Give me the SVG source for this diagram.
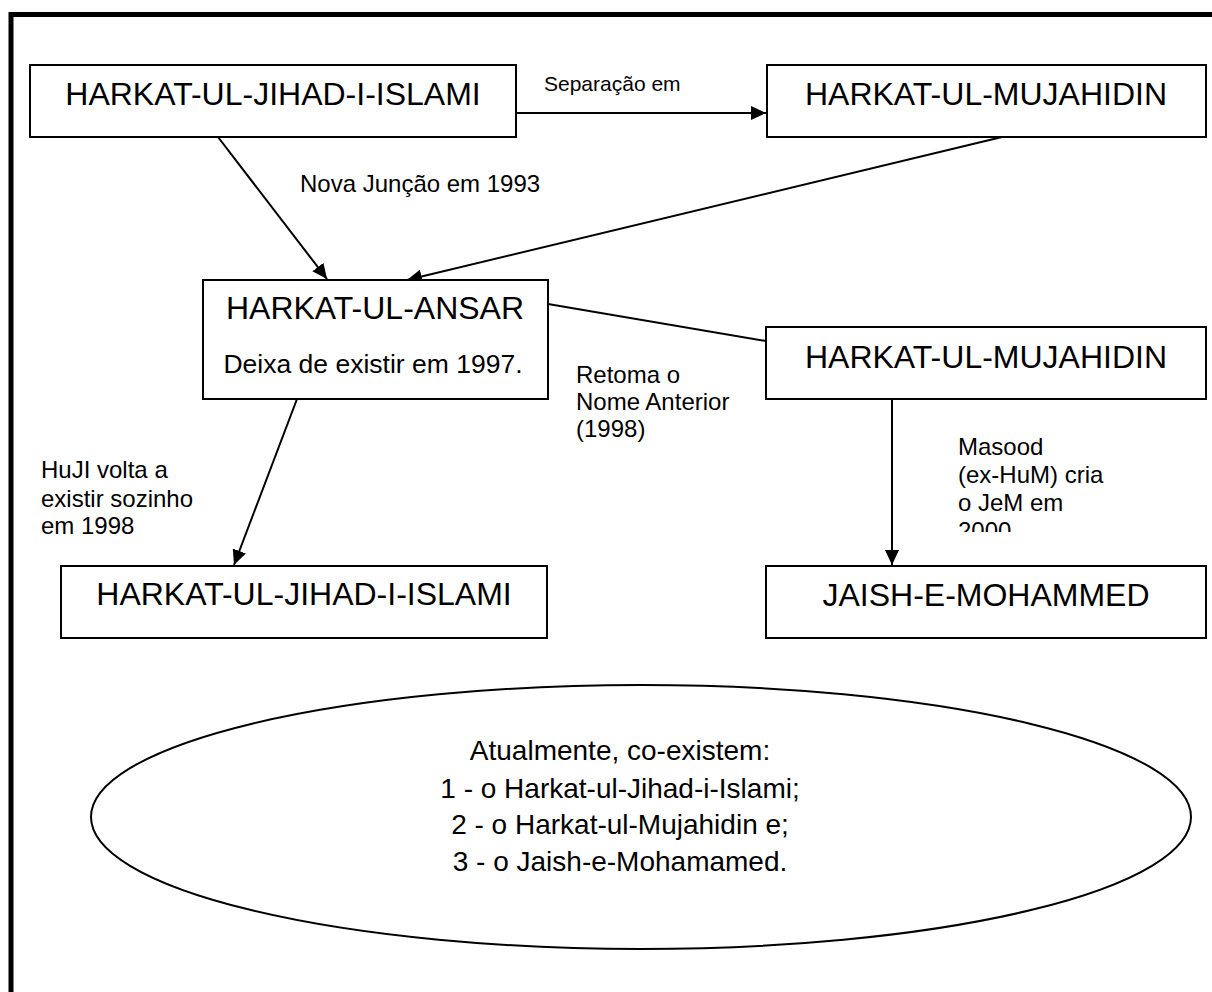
<svg xmlns="http://www.w3.org/2000/svg" width="1212" height="992" viewBox="0 0 1212 992">
  <defs>
    <style>
      .box { fill: #ffffff; stroke: #000000; stroke-width: 2; }
      .frame { fill: none; stroke: #000000; stroke-width: 5; }
      .conn { fill: none; stroke: #000000; stroke-width: 2; }
      .big { font-family: "Liberation Sans", Arial, sans-serif; font-size: 32px; fill: #000000; text-anchor: middle; }
      .mid { font-family: "Liberation Sans", Arial, sans-serif; font-size: 26.5px; fill: #000000; text-anchor: middle; }
      .lbl { font-family: "Liberation Sans", Arial, sans-serif; font-size: 24px; fill: #000000; }
      .sm { font-family: "Liberation Sans", Arial, sans-serif; font-size: 21px; fill: #000000; }
      .ell { font-family: "Liberation Sans", Arial, sans-serif; font-size: 28px; fill: #000000; text-anchor: middle; }
    </style>
    <marker id="arrow" markerUnits="userSpaceOnUse" markerWidth="16" markerHeight="14" refX="15" refY="7" orient="auto">
      <path d="M0,0 L15,7 L0,14 Z" fill="#000000"/>
    </marker>
    <clipPath id="clipMasood">
      <rect x="940" y="420" width="200" height="112"/>
    </clipPath>
  </defs>
  <rect width="1212" height="992" fill="#ffffff"/>
  <path class="frame" d="M11,1000 V14.5 H1230"/>

  <g id="connectors">
    <line class="conn" x1="516" y1="113" x2="766" y2="113" marker-end="url(#arrow)"/>
    <line class="conn" x1="218" y1="137" x2="327" y2="279" marker-end="url(#arrow)"/>
    <line class="conn" x1="1002" y1="137" x2="407" y2="280" marker-end="url(#arrow)"/>
    <line class="conn" x1="548" y1="304" x2="766" y2="341"/>
    <line class="conn" x1="297" y1="399" x2="234" y2="565" marker-end="url(#arrow)"/>
    <line class="conn" x1="892" y1="399" x2="892" y2="565" marker-end="url(#arrow)"/>
    <text class="sm" x="544" y="91">Separação em</text>
    <text class="lbl" x="300" y="192">Nova Junção em 1993</text>
    <text class="lbl" x="576" y="383">Retoma o</text>
    <text class="lbl" x="576" y="410">Nome Anterior</text>
    <text class="lbl" x="576" y="437">(1998)</text>
    <text class="lbl" x="41" y="478">HuJI volta a</text>
    <text class="lbl" x="41" y="507">existir sozinho</text>
    <text class="lbl" x="41" y="534">em 1998</text>
    <g clip-path="url(#clipMasood)">
      <text class="lbl" x="958" y="455">Masood</text>
      <text class="lbl" x="958" y="483">(ex-HuM) cria</text>
      <text class="lbl" x="958" y="511">o JeM em</text>
      <text class="lbl" x="958" y="539">2000</text>
    </g>
  </g>

  <g id="node-huji-top">
    <rect class="box" x="30" y="65" width="486" height="72"/>
    <text class="big" x="273" y="105">HARKAT-UL-JIHAD-I-ISLAMI</text>
  </g>
  <g id="node-hum-top">
    <rect class="box" x="767" y="65" width="439" height="72"/>
    <text class="big" x="986" y="105">HARKAT-UL-MUJAHIDIN</text>
  </g>
  <g id="node-hua">
    <rect class="box" x="203" y="280" width="345" height="119"/>
    <text class="big" x="375" y="319">HARKAT-UL-ANSAR</text>
    <text class="mid" x="373" y="373">Deixa de existir em 1997.</text>
  </g>
  <g id="node-hum">
    <rect class="box" x="766" y="327" width="440" height="72"/>
    <text class="big" x="986" y="368">HARKAT-UL-MUJAHIDIN</text>
  </g>
  <g id="node-huji-bottom">
    <rect class="box" x="61" y="566" width="486" height="72"/>
    <text class="big" x="304" y="605">HARKAT-UL-JIHAD-I-ISLAMI</text>
  </g>
  <g id="node-jem">
    <rect class="box" x="766" y="566" width="440" height="72"/>
    <text class="big" x="986" y="606">JAISH-E-MOHAMMED</text>
  </g>
  <g id="node-summary">
    <ellipse class="box" cx="641" cy="817" rx="550" ry="132"/>
    <text class="ell" x="620" y="760">Atualmente, co-existem:</text>
    <text class="ell" x="620" y="798">1 - o Harkat-ul-Jihad-i-Islami;</text>
    <text class="ell" x="620" y="834">2 - o Harkat-ul-Mujahidin e;</text>
    <text class="ell" x="620" y="871">3 - o Jaish-e-Mohamamed.</text>
  </g>
</svg>
